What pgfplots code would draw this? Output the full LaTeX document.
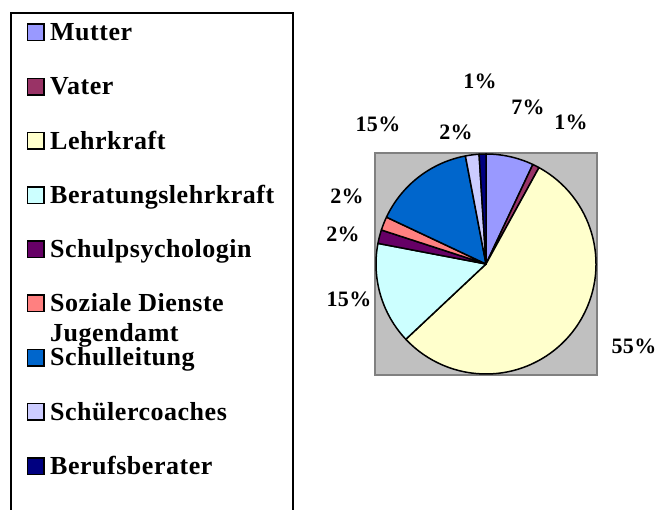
\documentclass[border=0pt]{standalone}
\usepackage{pgfplots}
\usepackage{pgfplotstable}
\pgfplotsset{compat=1.18}
\usepackage{fontspec}
\setmainfont{Liberation Serif}
\newfontfamily\lf{Liberation Serif}[LetterSpace=2]
\definecolor{c0}{HTML}{9999FF}
\definecolor{c1}{HTML}{993366}
\definecolor{c2}{HTML}{FFFFCC}
\definecolor{c3}{HTML}{CCFFFF}
\definecolor{c4}{HTML}{660066}
\definecolor{c5}{HTML}{FF8080}
\definecolor{c6}{HTML}{0066CC}
\definecolor{c7}{HTML}{CCCCFF}
\definecolor{c8}{HTML}{000080}
\definecolor{boxgray}{HTML}{C0C0C0}
\definecolor{boxedge}{HTML}{808080}
\pgfplotstableread{
idx value
0 7
1 1
2 55
3 15
4 2
5 2
6 15
7 2
8 1
}\piedata
\begin{document}
\begin{tikzpicture}
\begin{axis}[x=1bp,y=1bp,xmin=0,xmax=661,ymin=0,ymax=510,hide axis,clip=false,
  at={(0,0)},anchor=south west]
\filldraw[fill=boxgray,draw=boxedge,line width=2bp] (axis cs:375,135) rectangle (axis cs:597,357);
\def\cum{0}
\pgfplotsforeachungrouped \i in {0,...,8}{%
  \pgfplotstablegetelem{\i}{value}\of\piedata
  \let\myv\pgfplotsretval
  \pgfmathsetmacro\sa{90-3.6*\cum}%
  \pgfmathsetmacro\sb{90-3.6*(\cum+\myv)}%
  \edef\temp{\noexpand\filldraw[fill=c\i,draw=black,line width=1.5bp,line join=round] (axis cs:486,246) -- ++(\sa:110bp) arc[start angle=\sa,end angle=\sb,radius=110bp] -- cycle;}%
  \temp
  \pgfmathsetmacro\cum{\cum+\myv}%
}
\tikzset{pl/.style={anchor=base,inner sep=0pt,font={\lf\bfseries\fontsize{22bp}{26bp}\selectfont}}}
\node[pl] at (axis cs:480,421) {1\%};
\node[pl] at (axis cs:528,395.7) {7\%};
\node[pl] at (axis cs:571,380) {1\%};
\node[pl] at (axis cs:634,156.7) {55\%};
\node[pl] at (axis cs:349,203.3) {15\%};
\node[pl] at (axis cs:343,268.3) {2\%};
\node[pl] at (axis cs:347,306.7) {2\%};
\node[pl] at (axis cs:378,378.3) {15\%};
\node[pl] at (axis cs:456,370.7) {2\%};
\end{axis}
\draw[line width=2bp] (11bp,-20bp) -- (11bp,497bp) -- (293bp,497bp) -- (293bp,-20bp);
\tikzset{lt/.style={anchor=base west,inner sep=0pt,font={\lf\bfseries\fontsize{26bp}{30bp}\selectfont}}}
\foreach \c/\b/\t in {c0/40.7/Mutter, c1/94.9/Vater, c2/149.1/Lehrkraft, c3/203.3/Beratungslehrkraft,
  c4/257.5/Schulpsychologin, c5/311.7/Soziale Dienste, c6/366/Schulleitung, c7/420.2/Schülercoaches, c8/474.4/Berufsberater}{
  \pgfmathsetmacro\yy{510-\b}
  \filldraw[fill=\c,draw=black,line width=1.5bp] (27.5bp,\yy bp) rectangle (44bp,\yy bp+16.5bp);
  \node[lt] at (50bp,\yy bp) {\t};
}
\node[lt] at (50bp,168.3bp) {Jugendamt};
\pgfresetboundingbox
\useasboundingbox (0,0) rectangle (661bp,510bp);
\end{tikzpicture}
\end{document}
